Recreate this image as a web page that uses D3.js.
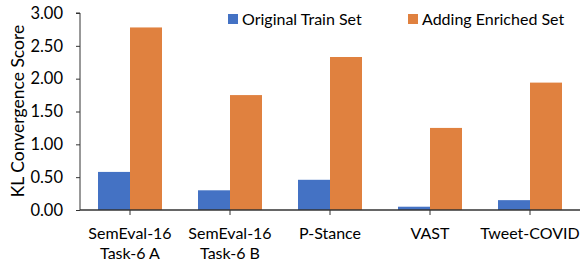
<!DOCTYPE html>
<html><head><meta charset="utf-8">
<script src="https://cdn.jsdelivr.net/npm/d3@7"></script>
<style>body{margin:0;background:#fff}svg{display:block}text{font-family:Lato,"Open Sans",sans-serif;fill:#000}</style>
</head><body>
<svg id="c" width="581" height="262"></svg>
<script>
const categories = [["SemEval-16","Task-6 A"],["SemEval-16","Task-6 B"],["P-Stance"],["VAST"],["Tweet-COVID"]];
const seriesNames = ["Original Train Set","Adding Enriched Set"];
const originalTrain = [0.58, 0.30, 0.46, 0.05, 0.15];
const addingEnriched = [2.78, 1.75, 2.33, 1.25, 1.94];
const yTicks = [0, 0.5, 1, 1.5, 2, 2.5, 3];
const colors = ["#4472C4", "#E0813F"];

(function(){
const svg = d3.select("#c");
const pL = 80, pR = 580, pT = 13, pB = 210;
const x = d3.scaleBand().domain(d3.range(categories.length)).range([pL, pR]).paddingInner(0.36).paddingOuter(0.18);
const y = d3.scaleLinear().domain([0, 3]).range([pB, pT]);
const xs = d3.scaleBand().domain([0,1]).range([0, x.bandwidth()]);

const series = [originalTrain, addingEnriched];
series.forEach((vals, si) => {
  svg.append("g").selectAll("rect").data(vals).join("rect")
    .attr("x", (d,i) => x(i) + xs(si))
    .attr("width", xs.bandwidth())
    .attr("y", d => y(d))
    .attr("height", d => y(0) - y(d))
    .attr("fill", colors[si]);
});

const ya = svg.append("g").attr("transform", `translate(${pL},0)`)
  .call(d3.axisLeft(y).tickValues(yTicks).tickFormat(d3.format(".2f")).tickSize(4).tickPadding(13));
ya.select(".domain").attr("stroke", "#333").attr("d", `M-4,${pT}H0V${pB}`);
ya.selectAll(".tick line").attr("stroke", "#333");
ya.selectAll("text").style("font-size", "16.5px").attr("fill", "#000").attr("font-family", "Lato");

const xa = svg.append("g").attr("transform", `translate(0,${pB})`);
xa.append("line").attr("x1", pL).attr("x2", pR).attr("stroke", "#333").attr("stroke-width", 1.5);
categories.forEach((c, i) => {
  const cx = x(i) + x.bandwidth()/2;
  xa.append("line").attr("x1", cx).attr("x2", cx).attr("y1", 0).attr("y2", 5).attr("stroke", "#333");
  c.forEach((line, li) => xa.append("text").attr("text-anchor", "middle").style("font-size", "16px")
    .attr("x", cx).attr("y", 29 + li*19.5).text(line));
});

svg.append("text").attr("transform", "translate(24,111) rotate(-90)")
  .attr("text-anchor", "middle").style("font-size", "17.5px").text("KL Convergence Score");

const legX = [228, 408];
seriesNames.forEach((n, i) => {
  svg.append("rect").attr("x", legX[i]).attr("y", 14).attr("width", 10).attr("height", 10).attr("fill", colors[i]);
  svg.append("text").attr("x", legX[i] + 14).attr("y", 25).style("font-size", "16px").text(n);
});
})();
</script>
</body></html>
